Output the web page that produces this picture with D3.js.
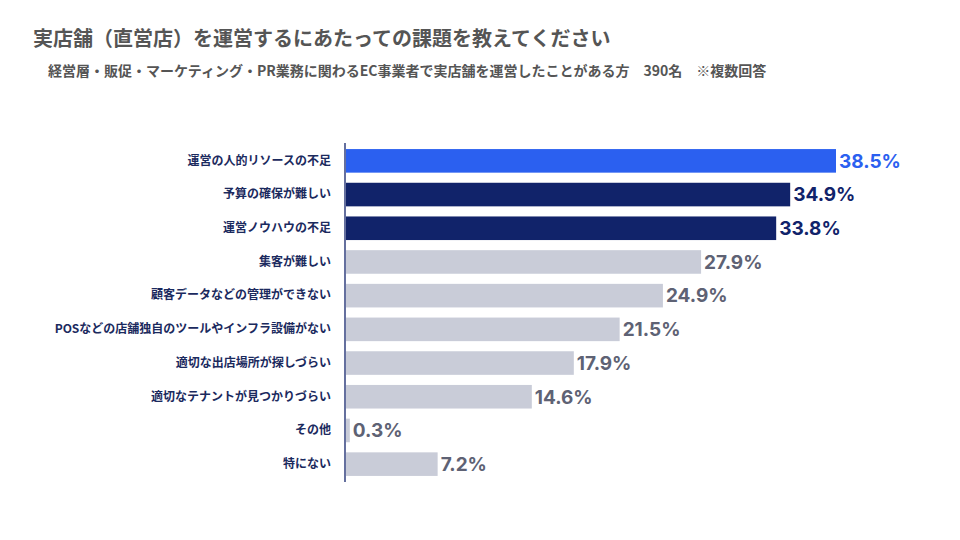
<!DOCTYPE html>
<html>
<head>
<meta charset="utf-8">
<script src="https://cdn.jsdelivr.net/npm/d3@7"></script>
<style>
  body { margin: 0; background: #fff; }
  text { font-family: "Noto Sans CJK JP", "Noto Sans", sans-serif; }
</style>
</head>
<body>
<svg id="chart" width="960" height="540"></svg>
<script>
"use strict";

var titleText = "実店舗（直営店）を運営するにあたっての課題を教えてください";
var subtitleText = "経営層・販促・マーケティング・PR業務に関わるEC事業者で実店舗を運営したことがある方　390名　※複数回答";

var categories = [
  "運営の人的リソースの不足",
  "予算の確保が難しい",
  "運営ノウハウの不足",
  "集客が難しい",
  "顧客データなどの管理ができない",
  "POSなどの店舗独自のツールやインフラ設備がない",
  "適切な出店場所が探しづらい",
  "適切なテナントが見つかりづらい",
  "その他",
  "特にない"
];
var values = [38.5, 34.9, 33.8, 27.9, 24.9, 21.5, 17.9, 14.6, 0.3, 7.2];
var groups = ["top", "high", "high", "rest", "rest", "rest", "rest", "rest", "rest", "rest"];

var barColor = { top: "#2b60f0", high: "#11236a", rest: "#c9ccd8" };
var valueColor = { top: "#2b60f0", high: "#11236a", rest: "#5e6274" };

var svg = d3.select("#chart");

svg.append("text")
  .attr("x", 33).attr("y", 46)
  .style("font-size", "20px").style("font-weight", "bold")
  .style("fill", "#555555")
  .text(titleText);

svg.append("text")
  .attr("x", 48).attr("y", 76)
  .style("font-size", "14px").style("font-weight", "bold")
  .style("fill", "#555555")
  .text(subtitleText);

var x0 = 346;
var x = d3.scaleLinear().domain([0, 38.5]).range([x0, 836]);
var y = d3.scaleBand().domain(categories).range([143, 482]).paddingInner(0.3).paddingOuter(0.18);

var rows = categories.map(function(c, i) {
  return { cat: c, val: values[i], grp: groups[i] };
});

// bars
svg.selectAll("rect.bar")
  .data(rows)
  .enter().append("rect")
  .attr("class", "bar")
  .attr("x", x0)
  .attr("y", function(d) { return y(d.cat) })
  .attr("width", function(d) { return Math.max(1.5, x(d.val) - x0) })
  .attr("height", y.bandwidth())
  .style("fill", function(d) { return barColor[d.grp] });

// value labels
svg.selectAll("text.val")
  .data(rows)
  .enter().append("text")
  .attr("class", "val")
  .attr("x", function(d) { return Math.max(x0 + 1.5, x(d.val)) + 3 })
  .attr("y", function(d) { return y(d.cat) + y.bandwidth() / 2 })
  .attr("dy", "0.36em")
  .style("font-family", "Inter, 'Noto Sans', sans-serif")
  .style("font-size", "19px").style("font-weight", "bold")
  .style("fill", function(d) { return valueColor[d.grp] })
  .text(function(d) { return d.val.toFixed(1) + "%" });

// category axis
var axis = svg.append("g")
  .attr("transform", "translate(345,0)")
  .call(d3.axisLeft(y).tickSize(0).tickPadding(14));
axis.select(".domain").attr("d", "M0,143V482").style("stroke", "#11236a").style("stroke-width", 1.3);
axis.selectAll(".tick text")
  .style("font-family", "'Noto Sans CJK JP', sans-serif")
  .style("font-size", "12px").style("font-weight", "bold")
  .style("fill", "#1b2a5e");
</script>
</body>
</html>
